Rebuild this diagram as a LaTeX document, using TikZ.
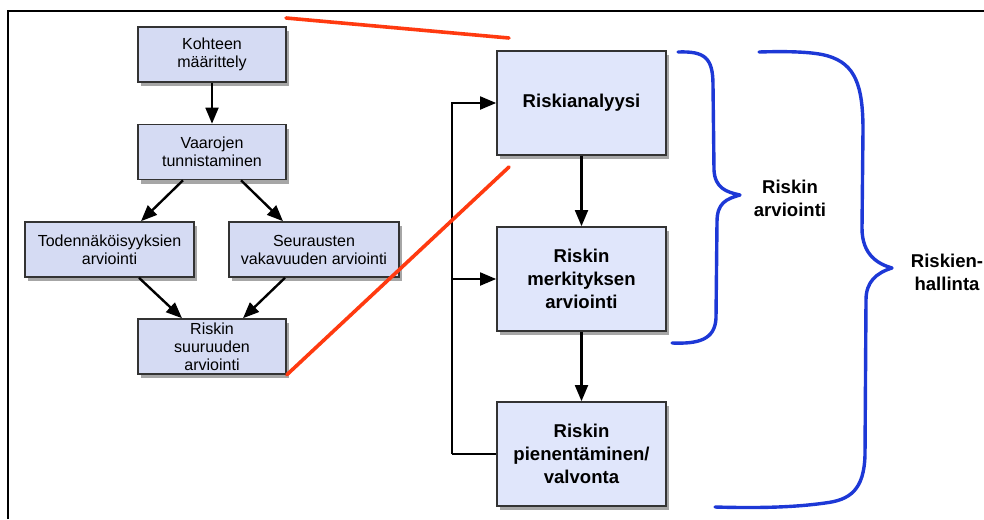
\documentclass[tikz,border=0pt]{standalone}
\usepackage{fontspec}
\setmainfont{Liberation Sans}
\usetikzlibrary{arrows.meta,shadows,calc}
\definecolor{Box Blue}{HTML}{D5DBF3}
\definecolor{Box Light}{HTML}{E0E6FB}
\definecolor{Brace Blue}{HTML}{1D38D6}
\definecolor{Zoom Red}{HTML}{FF3A10}

\begin{document}
\begin{tikzpicture}[x=0.25mm, y=-0.25mm]
  \path[use as bounding box] (0,0) rectangle (984,519);

  \tikzstyle{shade}=[drop shadow={shadow xshift=0.8mm, shadow yshift=-1.1mm, fill=black, opacity=0.35}]
  \tikzstyle{stage}=[draw=black!80, line width=0.4mm, fill=Box Blue, align=center,
                     inner sep=0pt, minimum height=13.75mm, shade,
                     font=\fontsize{11.4}{12.8}\selectfont]
  \tikzstyle{main stage}=[stage, fill=Box Light, minimum width=42.25mm, minimum height=26mm,
                          font=\fontsize{13.2}{16.3}\selectfont\bfseries]
  \tikzstyle{flow}=[line width=0.6mm, -{Triangle[length=4mm, width=3.2mm]}]
  \tikzstyle{zoom}=[Zoom Red, line width=0.9mm, line cap=round]
  \tikzstyle{brace}=[Brace Blue, line width=0.85mm, line cap=round, line join=round]
  \tikzstyle{annot}=[align=center, font=\fontsize{13.2}{16.3}\selectfont\bfseries]

  % Frame of the slide
  \draw[line width=0.5mm] (8,519) -- (8,11) -- (984,11);

  % Draw the detailed steps on the left
  \node[stage, minimum width=37mm] (target) at (212,54.5) {Kohteen\\määrittely};
  \node[stage, minimum width=37mm] (hazard) at (212,152) {Vaarojen\\tunnistaminen};
  \node[stage, minimum width=42.25mm] (prob) at (109.5,249.5) {Todennäköisyyksien\\arviointi};
  \node[stage, minimum width=42.5mm] (sever) at (314,249.5) {Seurausten\\vakavuuden arviointi};
  \node[stage, minimum width=37mm] (size) at (212,346.5) {Riskin\\suuruuden\\arviointi};

  % Draw the main steps on the right
  \node[main stage] (anal) at (581.5,103) {Riskianalyysi};
  \node[main stage] (merk) at (581.5,279) {Riskin\\merkityksen\\arviointi};
  \node[main stage] (pien) at (581.5,454) {Riskin\\pienentäminen/\\valvonta};

  % Connect the steps on the left
  \draw[flow] (target) -- (hazard);
  \draw[flow] ($(hazard.south)+(-29,0)$) -- ($(prob.north)+(31.5,0)$);
  \draw[flow] ($(hazard.south)+(29,0)$) -- ($(sever.north)+(-31,0)$);
  \draw[flow] ($(prob.south)+(29.5,0)$) -- ($(size.north)+(-30,0)$);
  \draw[flow] ($(sever.south)+(-29,0)$) -- ($(size.north)+(31,0)$);

  % Connect the steps on the right, with the loop back
  \draw[flow] (anal) -- (merk);
  \draw[flow] (merk) -- (pien);
  \coordinate (back) at (452,454);
  \draw[line width=0.6mm] (pien.west) -- (back);
  \draw[flow] (back) |- (anal.west);
  \draw[flow] (back |- merk.west) -- (merk.west);

  % Zoom lines from the detail to the main steps
  \coordinate (zoom top) at (286,18);
  \coordinate (zoom top end) at (509,38);
  \coordinate (zoom low end) at (509,167);
  \draw[zoom] (zoom top) -- (zoom top end);
  \draw[zoom] (size.south east) -- (zoom low end);

  % Braces and their labels
  \draw[brace] (678,52) .. controls (705,51) and (713,58) .. (713,85)
    -- (714,170) .. controls (715,188) and (726,192) .. (740,195)
    .. controls (726,199) and (717,203) .. (717,222)
    -- (716,318) .. controls (715,340) and (698,344) .. (672,343);
  \draw[brace] (759,52) .. controls (790,51) and (815,52) .. (828,56)
    .. controls (855,64) and (863,85) .. (863,130)
    -- (862,228) .. controls (862,255) and (878,264) .. (892,268)
    .. controls (876,273) and (866,282) .. (866,300)
    -- (865,455) .. controls (864,490) and (850,500) .. (825,503)
    .. controls (790,508) and (750,508) .. (715,507);
  \node[annot] (assess) at (790,198) {Riskin\\arviointi};
  \node[annot] (manage) at (947,272) {Riskien-\\hallinta};
\end{tikzpicture}
\end{document}
